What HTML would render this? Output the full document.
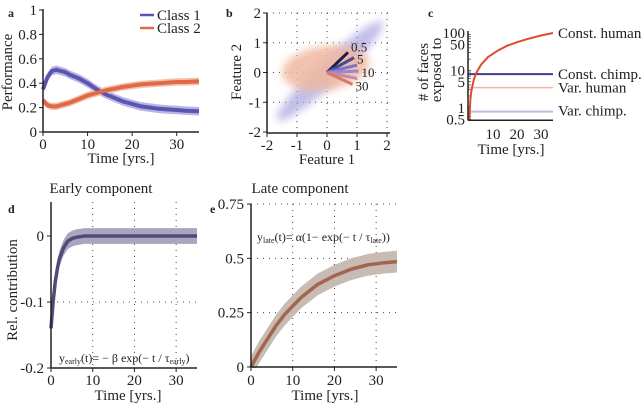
<!DOCTYPE html>
<html><head><meta charset="utf-8"><style>
html,body{margin:0;padding:0;background:#fff}
svg, svg text{font-family:"Liberation Serif","Times New Roman",Times,serif}
</style></head><body>
<svg id="fig" width="643" height="407" viewBox="0 0 643 407" xmlns="http://www.w3.org/2000/svg" font-family="Liberation Serif, Times New Roman, serif">
<defs>
<filter id="blur" x="-50%" y="-50%" width="200%" height="200%"><feGaussianBlur stdDeviation="4"/></filter>
</defs>
<g id="ga"></g>
<g id="gb"></g>
<g id="gc"></g>
<g id="gd"></g>
<g id="ge"></g>
</svg>
<script>
// ---- data ----
const aTime = [0,1,2,3,4,5,6,8,10,12,14,16,18,20,22,24,26,28,30,32,35];
const aClass1 = [0.35,0.45,0.50,0.51,0.50,0.49,0.47,0.44,0.40,0.35,0.31,0.28,0.25,0.23,0.21,0.20,0.19,0.185,0.18,0.175,0.17];
const aClass2 = [0.26,0.22,0.21,0.21,0.22,0.23,0.24,0.27,0.30,0.32,0.34,0.355,0.37,0.38,0.39,0.395,0.40,0.405,0.41,0.41,0.415];
const aYTicks = [0,0.2,0.4,0.6,0.8,1];
const aXTicks = [0,10,20,30];
const bTipX = [0.7,0.9,1.0,1.05,1.0,0.85];
const bTipY = [0.68,0.5,0.25,0.05,-0.2,-0.4];
const bTipLabels = ["0.5","5","","10","","30"];
const bTicks = [-2,-1,0,1,2];
const cTime = [0.1,0.3,0.6,1,2,3,5,8,12,16,20,25,30,35];
const cConstHuman = [0.3,0.86,1.7,2.9,5.7,8.6,14.3,23,34,46,57,71,86,100];
const cConstChimp = 8;
const cVarHuman = 3.5;
const cVarChimp = 0.8;
const dTime = [0,0.5,1,1.5,2,3,4,5,6,8,10,15,20,25,30,35];
const dMean = [-0.14,-0.10,-0.07,-0.05,-0.035,-0.018,-0.008,-0.004,-0.002,0,0,0,0,0,0,0];
const dYTicks = [0,-0.1,-0.2];
const eTime = [0,2,4,6,8,10,12,14,16,18,20,22,24,26,28,30,32,35];
const eMean = [0,0.07,0.13,0.19,0.24,0.28,0.32,0.35,0.38,0.40,0.42,0.435,0.45,0.46,0.47,0.475,0.48,0.485];
const eYTicks = [0,0.25,0.5,0.75];

const NS="http://www.w3.org/2000/svg";
const FF='"Liberation Serif","Times New Roman",Times,serif';
function el(parent,tag,attrs,text){const e=document.createElementNS(NS,tag);for(const k in attrs)e.setAttribute(k,attrs[k]);if(text!==undefined)e.textContent=text;parent.appendChild(e);return e;}
function lin(d0,d1,r0,r1){return v=>r0+(v-d0)*(r1-r0)/(d1-d0);}
function pathOf(xs,ys,X,Y){return xs.map((t,i)=>(i?'L':'M')+X(t).toFixed(1)+','+Y(ys[i]).toFixed(1)).join('');}
function band(xs,ys,w,X,Y){const up=xs.map((t,i)=>X(t).toFixed(1)+','+Y(ys[i]+w).toFixed(1));const lo=xs.map((t,i)=>X(t).toFixed(1)+','+Y(ys[i]-w).toFixed(1)).reverse();return 'M'+up.join('L')+'L'+lo.join('L')+'Z';}
function txt(g,x,y,s,size,anchor,name){const t=el(g,'text',{x:x,y:y,'font-size':size,'text-anchor':anchor||'middle',fill:'#222'},s);t.style.fontFamily=FF;return t;}

// ---- panel a ----
(function(){const g=document.getElementById('ga');
const X=lin(0,35,43,199),Y=lin(0,1,132,10);
txt(g,8,17,'a',12,'start','panel-label-a').setAttribute('font-weight','bold');
const b1=el(g,'path',{d:band(aTime,aClass1,0.035,X,Y),fill:'#b9b4e6'});
const b2=el(g,'path',{d:band(aTime,aClass2,0.03,X,Y),fill:'#f3c0aa'});
const l1=el(g,'path',{d:pathOf(aTime,aClass1,X,Y),fill:'none',stroke:'#5a55b0','stroke-width':4});
const l2=el(g,'path',{d:pathOf(aTime,aClass2,X,Y),fill:'none',stroke:'#e06a48','stroke-width':4});
el(g,'line',{x1:43,y1:9,x2:43,y2:132,stroke:'#222','stroke-width':1.5});
el(g,'line',{x1:43,y1:132,x2:199,y2:132,stroke:'#222','stroke-width':1.5});
aYTicks.forEach(v=>{el(g,'line',{x1:39,y1:Y(v),x2:43,y2:Y(v),stroke:'#222'});txt(g,37,Y(v)+5,String(v),15,'end','y-tick-label');});
aXTicks.forEach(v=>{el(g,'line',{x1:X(v),y1:132,x2:X(v),y2:136,stroke:'#222'});txt(g,X(v),149,String(v),15,'middle','x-tick-label');});
txt(g,121,163,'Time [yrs.]',15,'middle','x-axis-title');
const yl=txt(g,0,0,'Performance',15,'middle','y-axis-title');yl.setAttribute('transform','translate(12,72) rotate(-90)');
el(g,'line',{x1:140,y1:15,x2:154,y2:15,stroke:'#5a55b0','stroke-width':2.5});
txt(g,157,20,'Class 1',15,'start','legend-class1');
el(g,'line',{x1:140,y1:28,x2:154,y2:28,stroke:'#e06a48','stroke-width':2.5});
txt(g,157,33,'Class 2',15,'start','legend-class2');
})();

// ---- panel b ----
(function(){const g=document.getElementById('gb');
const X=lin(-2,2,267,387),Y=lin(-2,2,132,13);
txt(g,226,17,'b',12,'start','panel-label-b').setAttribute('font-weight','bold');
bTicks.forEach(v=>{if(v!==-2){el(g,'line',{x1:X(v),y1:13,x2:X(v),y2:132,stroke:'#444','stroke-width':1,'stroke-dasharray':'1,5'});el(g,'line',{x1:267,y1:Y(v),x2:390,y2:Y(v),stroke:'#444','stroke-width':1,'stroke-dasharray':'1,5'});}});
const c1=el(g,'g',{filter:'url(#blur)',opacity:0.7});
el(c1,'ellipse',{cx:X(0.1),cy:Y(0.05),rx:72,ry:12,fill:'#a9a4e0',transform:`rotate(-43 ${X(0.1)} ${Y(0.05)})`});
const c2=el(g,'g',{filter:'url(#blur)',opacity:0.85});
el(c2,'ellipse',{cx:X(-0.05),cy:Y(0.15),rx:44,ry:22,fill:'#f0b8a0',transform:`rotate(-8 ${X(-0.05)} ${Y(0.15)})`});
const cols=['#1e1e4a','#4a4898','#7a72c4','#9a86cc','#c08aa8','#d47a68'];
bTipX.forEach((v,i)=>{const a=el(g,'line',{x1:X(0),y1:Y(0),x2:X(v),y2:Y(bTipY[i]),stroke:cols[i],'stroke-width':3});
 if(bTipLabels[i])txt(g,X(v)+3,Y(bTipY[i])+(i===0?-1:6),bTipLabels[i],13,'start','vector-label');});
el(g,'line',{x1:267,y1:13,x2:267,y2:133,stroke:'#222','stroke-width':1.5});
el(g,'line',{x1:267,y1:133,x2:390,y2:133,stroke:'#222','stroke-width':1.5});
bTicks.forEach(v=>{el(g,'line',{x1:263,y1:Y(v),x2:267,y2:Y(v),stroke:'#222'});txt(g,261,Y(v)+5,String(v),15,'end','y-tick-label');
 el(g,'line',{x1:X(v),y1:133,x2:X(v),y2:137,stroke:'#222'});txt(g,X(v),150,String(v),15,'middle','x-tick-label');});
txt(g,327,164,'Feature 1',15,'middle','x-axis-title');
const yl=txt(g,0,0,'Feature 2',15,'middle','y-axis-title');yl.setAttribute('transform','translate(241,72) rotate(-90)');
})();

// ---- panel c ----
(function(){const g=document.getElementById('gc');
const X=lin(0,35,469,553);const Y=v=>108-37.5*Math.log10(v);
txt(g,428,17,'c',12,'start','panel-label-c').setAttribute('font-weight','bold');
const cc=el(g,'clipPath',{id:'clipc'});el(cc,'rect',{x:468,y:0,width:100,height:Y(0.5)+1});
for(let d=0.5;d<=100;){el(g,'line',{x1:468,y1:Y(d),x2:471,y2:Y(d),stroke:'#222','stroke-width':0.6});d=d<1?d+0.1:d<10?d+1:d+10;}
const h1=el(g,'line',{x1:468,y1:Y(cConstChimp),x2:553,y2:Y(cConstChimp),stroke:'#3c3c90','stroke-width':2});
const h2=el(g,'line',{x1:468,y1:Y(cVarHuman),x2:553,y2:Y(cVarHuman),stroke:'#f2b6a4','stroke-width':1.5});
const h3=el(g,'line',{x1:468,y1:Y(cVarChimp),x2:553,y2:Y(cVarChimp),stroke:'#bdb9e0','stroke-width':2});
const ch=el(g,'path',{d:pathOf(cTime,cConstHuman,X,Y),fill:'none',stroke:'#e04a30','stroke-width':2,'clip-path':'url(#clipc)'});
[0.5,1,5,10,50,100].forEach(v=>{txt(g,465,Y(v)+5,String(v),15,'end','y-tick-label');});
el(g,'line',{x1:468,y1:Y(100)-2,x2:468,y2:Y(0.5)+1,stroke:'#222','stroke-width':1.5});
el(g,'line',{x1:468,y1:Y(0.5)+1,x2:553,y2:Y(0.5)+1,stroke:'#222','stroke-width':1.5});
[10,20,30].forEach(v=>{txt(g,X(v),139,String(v),15,'middle','x-tick-label');});
txt(g,511,154,'Time [yrs.]',15,'middle','x-axis-title');
const y1=txt(g,0,0,'# of faces',15,'middle','y-axis-title');y1.setAttribute('transform','translate(428,72) rotate(-90)');
const y2=txt(g,0,0,'exposed to',15,'middle','y-axis-title-2');y2.setAttribute('transform','translate(441,70) rotate(-90)');
txt(g,558,Y(100)+5,'Const. human',15,'start','label-const-human');
txt(g,558,Y(cConstChimp)+5,'Const. chimp.',15,'start','label-const-chimp');
txt(g,558,Y(cVarHuman)+5,'Var. human',15,'start','label-var-human');
txt(g,558,Y(cVarChimp)+4,'Var. chimp.',15,'start','label-var-chimp');
})();

// ---- panel d ----
(function(){const g=document.getElementById('gd');
const X=lin(0,35,51,197),Y=lin(-0.2,0,368,236);
txt(g,8,213,'d',12,'start','panel-label-d').setAttribute('font-weight','bold');
txt(g,101,193,'Early component',15,'middle','panel-title');
[10,20,30].forEach(v=>el(g,'line',{x1:X(v),y1:202,x2:X(v),y2:368,stroke:'#444','stroke-dasharray':'1,5'}));
[-0.1].forEach(v=>el(g,'line',{x1:51,y1:Y(v),x2:197,y2:Y(v),stroke:'#444','stroke-dasharray':'1,5'}));
const bd=el(g,'path',{d:band(dTime,dMean,0.012,X,Y),fill:'#a9a6bd'});
const ld=el(g,'path',{d:pathOf(dTime,dMean,X,Y),fill:'none',stroke:'#4e4c78','stroke-width':3.5});
el(g,'line',{x1:51,y1:202,x2:51,y2:368,stroke:'#222','stroke-width':1.5});
el(g,'line',{x1:51,y1:368,x2:197,y2:368,stroke:'#222','stroke-width':1.5});
dYTicks.forEach(v=>{el(g,'line',{x1:47,y1:Y(v),x2:51,y2:Y(v),stroke:'#222'});txt(g,44,Y(v)+5,String(v),15,'end','y-tick-label');});
aXTicks.forEach(v=>{el(g,'line',{x1:X(v),y1:368,x2:X(v),y2:372,stroke:'#222'});txt(g,X(v),385,String(v),15,'middle','x-tick-label');});
txt(g,128,400,'Time [yrs.]',15,'middle','x-axis-title');
const yl=txt(g,0,0,'Rel. contribution',15,'middle','y-axis-title');yl.setAttribute('transform','translate(17,290) rotate(-90)');
const f=el(g,'text',{x:59,y:362,'font-size':12,fill:'#222'});f.style.fontFamily=FF;
f.innerHTML='y<tspan font-size="8" dy="2">early</tspan><tspan dy="-2">(t)= − β exp(− t / τ</tspan><tspan font-size="8" dy="2">early</tspan><tspan dy="-2">)</tspan>';
})();

// ---- panel e ----
(function(){const g=document.getElementById('ge');
const X=lin(0,35,251,397),Y=lin(0,0.75,367,204);
txt(g,210,213,'e',12,'start','panel-label-e').setAttribute('font-weight','bold');
txt(g,300,193,'Late component',15,'middle','panel-title');
[10,20,30].forEach(v=>el(g,'line',{x1:X(v),y1:204,x2:X(v),y2:367,stroke:'#444','stroke-dasharray':'1,5'}));
[0.25,0.5,0.75].forEach(v=>el(g,'line',{x1:251,y1:Y(v),x2:397,y2:Y(v),stroke:'#444','stroke-dasharray':'1,5'}));
const be=el(g,'path',{d:band(eTime,eMean,0.05,X,Y),fill:'#c7bbb3'});
const le=el(g,'path',{d:pathOf(eTime,eMean,X,Y),fill:'none',stroke:'#a2654f','stroke-width':3.5});
el(g,'rect',{x:240,y:368,width:20,height:10,fill:'#fff'});
el(g,'line',{x1:251,y1:204,x2:251,y2:367,stroke:'#222','stroke-width':1.5});
el(g,'line',{x1:251,y1:367,x2:397,y2:367,stroke:'#222','stroke-width':1.5});
eYTicks.forEach(v=>{el(g,'line',{x1:247,y1:Y(v),x2:251,y2:Y(v),stroke:'#222'});txt(g,244,Y(v)+5,String(v),15,'end','y-tick-label');});
aXTicks.forEach(v=>{el(g,'line',{x1:X(v),y1:367,x2:X(v),y2:371,stroke:'#222'});txt(g,X(v),385,String(v),15,'middle','x-tick-label');});
txt(g,325,400,'Time [yrs.]',15,'middle','x-axis-title');
const f=el(g,'text',{x:257,y:241,'font-size':12,fill:'#222'});f.style.fontFamily=FF;
f.innerHTML='y<tspan font-size="8" dy="2">late</tspan><tspan dy="-2">(t)= α(1− exp(− t / τ</tspan><tspan font-size="8" dy="2">late</tspan><tspan dy="-2">))</tspan>';
})();
</script>
</body></html>
